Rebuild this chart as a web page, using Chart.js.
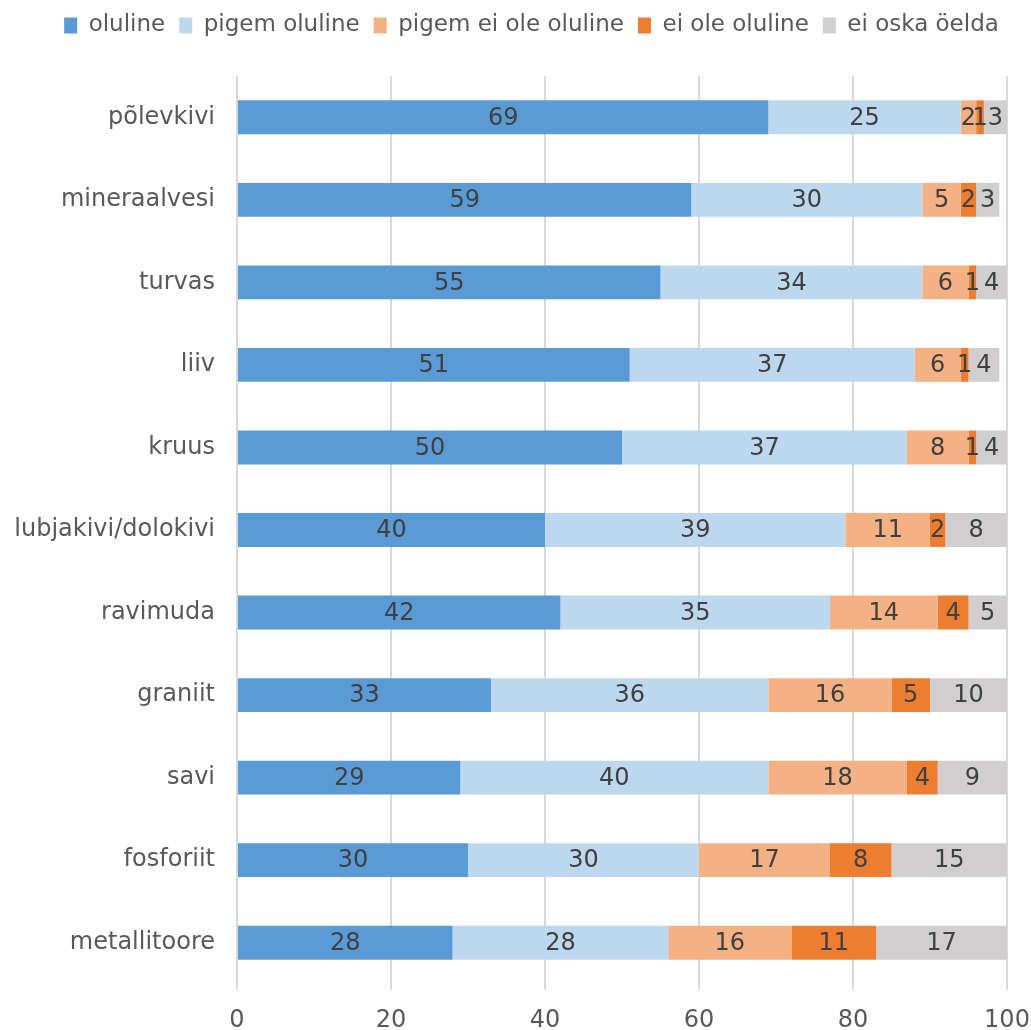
<!DOCTYPE html>
<html><head><meta charset="utf-8">
<script src="https://cdn.jsdelivr.net/npm/chart.js@4"></script>
<style>html,body{margin:0;padding:0;background:#fff}#w{width:1031px;height:1030px}</style>
</head><body><div id="w"><canvas id="c"></canvas></div>
<script>
const categories = ["põlevkivi","mineraalvesi","turvas","liiv","kruus","lubjakivi/dolokivi","ravimuda","graniit","savi","fosforiit","metallitoore"];
const seriesNames = ["oluline","pigem oluline","pigem ei ole oluline","ei ole oluline","ei oska öelda"];
const oluline = [69,59,55,51,50,40,42,33,29,30,28];
const pigemOluline = [25,30,34,37,37,39,35,36,40,30,28];
const pigemEiOle = [2,5,6,6,8,11,14,16,18,17,16];
const eiOle = [1,2,1,1,1,2,4,5,4,8,11];
const eiOska = [3,3,4,4,4,8,5,10,9,15,17];
const xTicks = [0,20,40,60,80,100];
const colors = ["#5b9bd5","#bdd7ee","#f4b183","#ed7d31","#d0cece"];
const allSeries = [oluline,pigemOluline,pigemEiOle,eiOle,eiOska];
const FONT = '"DejaVu Sans", Verdana, sans-serif';

const labelPlugin = {
  id:'segLabels',
  afterDatasetsDraw(chart){
    const ctx = chart.ctx;
    ctx.save();
    ctx.font = '24px ' + FONT;
    ctx.fillStyle = '#404040';
    ctx.textAlign = 'center';
    ctx.textBaseline = 'middle';
    chart.data.datasets.forEach((ds,i)=>{
      chart.getDatasetMeta(i).data.forEach((bar,j)=>{
        const v = ds.data[j];
        const x = (bar.x + bar.base)/2;
        ctx.fillText(String(v), x, bar.y+1);
      });
    });
    ctx.restore();
  }
};
const legendMargin = {
  id:'legendMargin',
  beforeInit(chart){
    const fit = chart.legend.fit;
    chart.legend.fit = function(){ fit.bind(chart.legend)(); this.height = 76; };
  },
  afterLayout(chart){
    chart.legend.left += 28;
    chart.legend.right += 28;
  }
};

new Chart(document.getElementById('c'), {
  type:'bar',
  data:{
    labels: categories,
    datasets: allSeries.map((d,i)=>({label:seriesNames[i], data:d, backgroundColor:colors[i], borderWidth:0, barPercentage:0.82, categoryPercentage:0.5}))
  },
  options:{
    indexAxis:'y',
    responsive:true, maintainAspectRatio:false, animation:false,
    layout:{padding:{left:0,right:24,top:0,bottom:0}},
    plugins:{
      legend:{position:'top', align:'center',
        labels:{boxWidth:13, boxHeight:16, padding:14, color:'#595959', font:{family:FONT, size:23}}},
      tooltip:{enabled:false}
    },
    scales:{
      x:{stacked:true, min:0, max:100,
        afterBuildTicks(s){ s.ticks = xTicks.map(v=>({value:v})); },
        afterFit(s){ s.height = 46; s.paddingLeft = 0; s.paddingRight = 0; },
        grid:{color:'#d9d9d9', lineWidth:2, drawTicks:true, tickLength:6},
        border:{display:false},
        ticks:{color:'#595959', padding:16, font:{family:FONT, size:24}}},
      y:{stacked:true,
        afterFit(s){ s.width = 237; s.paddingTop = 0; s.paddingBottom = 0; },
        grid:{display:false},
        border:{display:false},
        ticks:{color:'#595959', padding:14, font:{family:FONT, size:24}}}
    }
  },
  plugins:[labelPlugin, legendMargin]
});
</script></body></html>
